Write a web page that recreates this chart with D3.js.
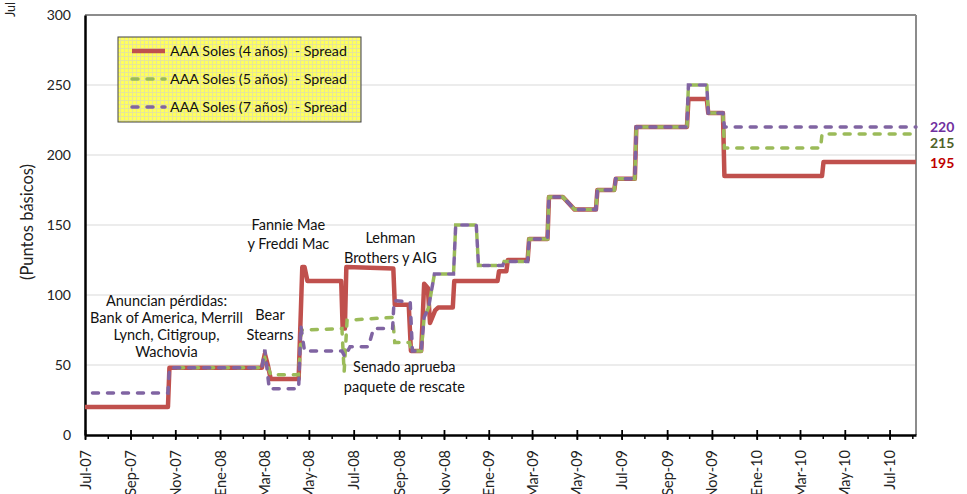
<!DOCTYPE html>
<html>
<head>
<meta charset="utf-8">
<script src="https://cdn.jsdelivr.net/npm/d3@7"></script>
<style>
  html, body { margin: 0; padding: 0; background: #fff; }
  svg { display: block; font-family: Lato, "Open Sans", sans-serif; }
</style>
</head>
<body>
<svg id="chart" width="967" height="494"></svg>
<script>
// ---------- DATA ----------
const seriesNames = ["AAA Soles (4 años)  - Spread", "AAA Soles (5 años)  - Spread", "AAA Soles (7 años)  - Spread"];

const dates4 = ["2007-07-01","2007-10-22","2007-10-24","2008-02-27","2008-03-02","2008-03-06","2008-03-10","2008-04-17","2008-04-22","2008-04-25","2008-04-29","2008-06-14","2008-06-16","2008-06-19","2008-06-21","2008-08-24","2008-08-26","2008-09-14","2008-09-17","2008-10-01","2008-10-05","2008-10-10","2008-10-13","2008-10-20","2008-10-24","2008-11-13","2008-11-15","2009-01-13","2009-01-15","2009-01-25","2009-01-27","2009-02-23","2009-02-25","2009-03-22","2009-03-24","2009-04-12","2009-04-28","2009-05-27","2009-05-29","2009-06-21","2009-06-23","2009-07-19","2009-07-21","2009-09-28","2009-09-30","2009-10-25","2009-10-27","2009-11-16","2009-11-18","2010-03-31","2010-04-02","2010-08-06"];
const spread4 = [20,20,48,48,58,50,40,40,120,120,110,110,76,76,120,119,93,93,60,60,108,105,80,89,91,91,110,110,117,117,125,125,140,140,170,170,161,161,175,175,183,183,220,220,240,240,230,230,185,185,195,195];

const dates5 = ["2007-10-24","2008-02-27","2008-03-02","2008-03-10","2008-04-17","2008-04-21","2008-06-15","2008-06-18","2008-06-22","2008-08-23","2008-08-26","2008-09-15","2008-09-18","2008-10-01","2008-10-05","2008-10-11","2008-10-19","2008-11-14","2008-11-17","2008-12-15","2008-12-18","2009-01-20","2009-01-22","2009-02-23","2009-02-25","2009-03-22","2009-03-24","2009-04-12","2009-04-28","2009-05-27","2009-05-29","2009-06-21","2009-06-23","2009-07-19","2009-07-21","2009-09-28","2009-09-30","2009-10-25","2009-10-27","2009-11-16","2009-11-18","2010-03-29","2010-03-31","2010-08-06"];
const spread5 = [48,48,55,43,43,75,76,45,82,84,66,66,60,60,84,91,115,115,150,150,121,121,124,124,140,140,170,170,161,161,175,175,183,183,220,220,250,250,230,230,205,205,215,215];

const dates7 = ["2007-07-01","2007-10-22","2007-10-24","2008-02-27","2008-03-02","2008-03-08","2008-04-17","2008-04-20","2008-04-25","2008-06-15","2008-06-19","2008-06-26","2008-07-21","2008-07-28","2008-08-23","2008-08-25","2008-09-16","2008-09-19","2008-10-01","2008-10-05","2008-10-11","2008-10-19","2008-11-14","2008-11-17","2008-12-15","2008-12-18","2009-01-20","2009-01-22","2009-02-23","2009-02-25","2009-03-22","2009-03-24","2009-04-12","2009-04-28","2009-05-27","2009-05-29","2009-06-21","2009-06-23","2009-07-19","2009-07-21","2009-09-28","2009-09-30","2009-10-25","2009-10-27","2009-11-16","2009-11-18","2010-08-06"];
const spread7 = [30,30,48,48,61,33,33,78,60,60,56,63,63,76,76,96,95,60,60,84,91,115,115,150,150,121,121,124,124,140,140,170,170,161,161,175,175,183,183,220,220,250,250,230,230,220,220];

const yTicks = [0, 50, 100, 150, 200, 250, 300];
const monthLabels = ["Ene","Feb","Mar","Abr","May","Jun","Jul","Ago","Sep","Oct","Nov","Dic"];
const endLabels = ["195", "215", "220"];

const annotations = [
  { lines: ["Anuncian pérdidas:", "Bank of America, Merrill", "Lynch, Citigroup,", "Wachovia"], date: "2007-10-20", value: 92.5, gap: 17.2 },
  { lines: ["Bear", "Stearns"], date: "2008-03-09", value: 82.5, gap: 20 },
  { lines: ["Fannie Mae", "y Freddi Mac"], date: "2008-04-03", value: 146.5, gap: 19.5 },
  { lines: ["Lehman", "Brothers y AIG"], date: "2008-08-20", value: 137.5, gap: 20.5 },
  { lines: ["Senado aprueba", "paquete de rescate"], date: "2008-09-08", value: 45, gap: 20 }
];

// ---------- SETUP ----------
const parse = d3.timeParse("%Y-%m-%d");
const svg = d3.select("#chart");
const mLeft = 85, mRight = 916, mTop = 15, mBottom = 435;

const x = d3.scaleTime().domain([parse("2007-07-01"), parse("2010-08-06")]).range([mLeft, mRight]);
const y = d3.scaleLinear().domain([0, 300]).range([mBottom, mTop]);

// gridlines
svg.append("g").selectAll("line").data(yTicks.filter(v => v > 0 && v < 300)).join("line")
  .attr("x1", mLeft).attr("x2", mRight)
  .attr("y1", d => y(d)).attr("y2", d => y(d))
  .attr("stroke", "#d9d9d9").attr("stroke-width", 1);

// plot border top/right
svg.append("line").attr("x1", mLeft).attr("x2", mRight).attr("y1", y(300)).attr("y2", y(300))
  .attr("stroke", "#8c8c8c").attr("stroke-width", 2);
svg.append("line").attr("x1", mRight).attr("x2", mRight).attr("y1", y(300)).attr("y2", y(0))
  .attr("stroke", "#8c8c8c").attr("stroke-width", 2);

// y axis
const yAxis = d3.axisLeft(y).tickValues(yTicks).tickSize(0).tickPadding(14);
const gy = svg.append("g").attr("transform", `translate(${mLeft},0)`).call(yAxis);
gy.select(".domain").attr("stroke", "#000").attr("stroke-width", 2.5);
gy.selectAll("text").attr("font-size", 14).attr("fill", "#222").attr("font-family", "Lato, sans-serif");

// x axis
const majorDates = d3.timeMonth.range(parse("2007-07-01"), parse("2010-07-02"), 2);
const minorDates = d3.timeMonth.range(parse("2007-07-01"), parse("2010-08-02"), 1);
const fmt = d => monthLabels[d.getMonth()] + "-" + d3.timeFormat("%y")(d);

const gxMinor = svg.append("g").attr("transform", `translate(0,${mBottom})`)
  .call(d3.axisBottom(x).tickValues(minorDates).tickSize(4).tickFormat(""));
gxMinor.select(".domain").remove();
gxMinor.selectAll("line").attr("stroke", "#000").attr("stroke-width", 1.5);

const gx = svg.append("g").attr("transform", `translate(0,${mBottom})`)
  .call(d3.axisBottom(x).tickValues(majorDates).tickFormat(fmt).tickSize(5).tickSizeOuter(0));
gx.select(".domain").attr("stroke", "#000").attr("stroke-width", 2.5);
gx.selectAll(".tick line").attr("y1", -5).attr("y2", 5).attr("stroke", "#000").attr("stroke-width", 1.8);
gx.selectAll(".tick text")
  .attr("transform", "rotate(-90)")
  .attr("text-anchor", "end")
  .attr("x", -15).attr("y", 0).attr("dy", "0.35em")
  .attr("font-size", 14.5).attr("fill", "#222").attr("font-family", "Lato, sans-serif");

// y title
svg.append("text")
  .attr("transform", `translate(33,222) rotate(-90)`)
  .attr("text-anchor", "middle")
  .attr("font-size", 16.5).attr("fill", "#222")
  .text("(Puntos básicos)");

// stray clipped label top-left
svg.append("text")
  .attr("transform", "translate(11,17) rotate(-90)")
  .attr("text-anchor", "start").attr("dy", "0.35em")
  .attr("font-size", 12.5).attr("fill", "#222")
  .text("Jul");

// ---------- LINES ----------
const line = d3.line().x(d => x(d[0])).y(d => y(d[1]));
const toPts = (ds, vs) => ds.map((d, i) => [parse(d), vs[i]]);

const colors = ["#C0504D", "#9BBB59", "#8064A2"];
const pts4 = toPts(dates4, spread4), pts5 = toPts(dates5, spread5), pts7 = toPts(dates7, spread7);

// measure path lengths up to the point where 5y and 7y coincide, to interleave dashes
const common = "2008-10-05";
const measure = pts => {
  const p = svg.append("path").attr("d", line(pts)).attr("fill", "none");
  const L = p.node().getTotalLength(); p.remove(); return L;
};
const L5 = measure(pts5.slice(0, dates5.indexOf(common) + 1));
const L7 = measure(pts7.slice(0, dates7.indexOf(common) + 1));
const period = 15, off7 = 7.5;
const off5 = (((L7 - L5 + off7 + period / 2) % period) + period) % period;

svg.append("path").datum(pts4)
  .attr("d", line).attr("fill", "none").attr("stroke", colors[0])
  .attr("stroke-width", 4.5).attr("stroke-linejoin", "round");

svg.append("path").datum(pts5)
  .attr("d", line).attr("fill", "none").attr("stroke", colors[1])
  .attr("stroke-width", 3.5).attr("stroke-dasharray", "6,9").attr("stroke-linecap", "round")
  .attr("stroke-dashoffset", off5);

svg.append("path").datum(pts7)
  .attr("d", line).attr("fill", "none").attr("stroke", colors[2])
  .attr("stroke-width", 3.5).attr("stroke-dasharray", "6,9").attr("stroke-linecap", "round")
  .attr("stroke-dashoffset", off7);

// end labels
const endColors = ["#C00000", "#4F6228", "#7030A0"];
const endY = [163, 143, 127];
svg.append("g").selectAll("text").data(endLabels).join("text")
  .attr("x", 930).attr("y", (d, i) => endY[i]).attr("dy", "0.35em")
  .attr("font-size", 14).attr("font-weight", "bold")
  .attr("fill", (d, i) => endColors[i])
  .text(d => d);

// annotations
annotations.forEach(a => {
  const t = svg.append("text")
    .attr("text-anchor", "middle").attr("font-size", 14.5).attr("fill", "#111");
  a.lines.forEach((ln, i) => {
    t.append("tspan").attr("x", x(parse(a.date))).attr("y", y(a.value) + i * a.gap).text(ln);
  });
});

// ---------- LEGEND ----------
const defs = svg.append("defs");
const pat = defs.append("pattern").attr("id", "grid").attr("width", 4).attr("height", 4)
  .attr("patternUnits", "userSpaceOnUse");
pat.append("rect").attr("width", 4).attr("height", 4).attr("fill", "#ffff5c");
pat.append("path").attr("d", "M0,0.5H4M0.5,0V4").attr("stroke", "#e6e69a").attr("stroke-width", 1);

const lg = svg.append("g");
lg.append("rect").attr("x", 118).attr("y", 37).attr("width", 243).attr("height", 85)
  .attr("fill", "url(#grid)").attr("stroke", "#404040").attr("stroke-width", 1);
const legY = [51, 79, 107];
seriesNames.forEach((n, i) => {
  const l = lg.append("line").attr("x1", 132).attr("x2", 165).attr("y1", legY[i]).attr("y2", legY[i])
    .attr("stroke", colors[i]).attr("stroke-width", i === 0 ? 4.5 : 3.5);
  if (i > 0) l.attr("stroke-dasharray", "6,9").attr("stroke-linecap", "round");
  lg.append("text").attr("x", 170).attr("y", legY[i]).attr("dy", "0.35em")
    .attr("font-size", 14.3).attr("fill", "#111").attr("xml:space", "preserve").text(n);
});
</script>
</body>
</html>
